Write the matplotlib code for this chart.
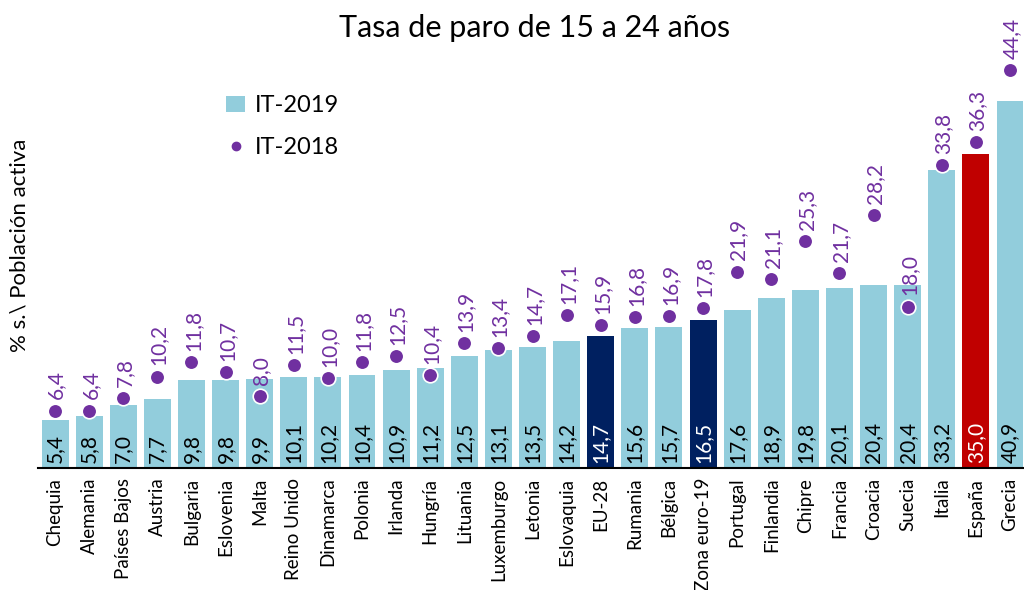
import matplotlib
matplotlib.use('Agg')

import numpy as np
import matplotlib.pyplot as plt
from matplotlib.lines import Line2D
from matplotlib.patches import Patch

paises = ['Chequia', 'Alemania', 'Países Bajos', 'Austria', 'Bulgaria', 'Eslovenia',
          'Malta', 'Reino Unido', 'Dinamarca', 'Polonia', 'Irlanda', 'Hungría',
          'Lituania', 'Luxemburgo', 'Letonia', 'Eslovaquia', 'EU-28', 'Rumania',
          'Bélgica', 'Zona euro-19', 'Portugal', 'Finlandia', 'Chipre', 'Francia',
          'Croacia', 'Suecia', 'Italia', 'España', 'Grecia']
it_2019 = [5.4, 5.8, 7.0, 7.7, 9.8, 9.8, 9.9, 10.1, 10.2, 10.4, 10.9, 11.2, 12.5, 13.1,
           13.5, 14.2, 14.7, 15.6, 15.7, 16.5, 17.6, 18.9, 19.8, 20.1, 20.4, 20.4,
           33.2, 35.0, 40.9]
it_2018 = [6.4, 6.4, 7.8, 10.2, 11.8, 10.7, 8.0, 11.5, 10.0, 11.8, 12.5, 10.4, 13.9, 13.4,
           14.7, 17.1, 15.9, 16.8, 16.9, 17.8, 21.9, 21.1, 25.3, 21.7, 28.2, 18.0,
           33.8, 36.3, 44.4]

AZUL = '#92CDDC'
MARINO = '#002060'
ROJO = '#C00000'
MORADO = '#7030A0'

plt.rcParams['font.family'] = ['Lato', 'DejaVu Sans']

colores = []
for p in paises:
    if p in ('EU-28', 'Zona euro-19'):
        colores.append(MARINO)
    elif p == 'España':
        colores.append(ROJO)
    else:
        colores.append(AZUL)

fig = plt.figure(figsize=(10.24, 5.9), dpi=100)
ax = fig.add_axes([38 / 1024, 122 / 590, 986 / 1024, 468 / 590])

x = np.arange(len(paises))
ax.bar(x, it_2019, width=0.79, color=colores, zorder=2)
ax.plot(x, it_2018, 'o', color=MORADO, markersize=10.5, markeredgecolor='white',
        markeredgewidth=1.2, zorder=3)

# etiquetas de las barras
for i, v in enumerate(it_2019):
    c = 'white' if colores[i] != AZUL else 'black'
    ax.text(i, 0.6, f'{v:.1f}'.replace('.', ','), rotation=90, ha='center', va='bottom',
            fontsize=15, color=c, zorder=4)

# etiquetas de los puntos
for i, v in enumerate(it_2018):
    ax.annotate(f'{v:.1f}'.replace('.', ','), (i, v), xytext=(1, 8), textcoords='offset points',
                rotation=90, ha='center', va='bottom', fontsize=15, color=MORADO,
                annotation_clip=False, zorder=4)

ax.set_xlim(-0.5, 28.41)
ax.set_ylim(0, 468 / 8.97)
ax.set_xticks(x)
ax.set_xticklabels(paises, rotation=90, fontsize=13.5)
ax.tick_params(axis='x', length=0, pad=7)
ax.set_yticks([])
for s in ['top', 'right', 'left']:
    ax.spines[s].set_visible(False)
ax.spines['bottom'].set_linewidth(1.5)

fig.text(20 / 1024, 1 - 245 / 590, '% s.\\ Población activa', rotation=90,
         ha='center', va='center', fontsize=16)
fig.text(535 / 1024, 1 - 28 / 590, 'Tasa de paro de 15 a 24 años', ha='center', va='center',
         fontsize=22)

handles = [Patch(facecolor=AZUL, label='IT-2019'),
           Line2D([], [], marker='o', linestyle='none', color=MORADO, markersize=6, label='IT-2018')]
fig.legend(handles=handles, loc='upper left', bbox_to_anchor=(205 / 1024, 1 - 74 / 590),
           frameon=False, fontsize=17, handlelength=0.8, handletextpad=0.4, labelspacing=0.9)

plt.savefig('out.png', dpi=100)
